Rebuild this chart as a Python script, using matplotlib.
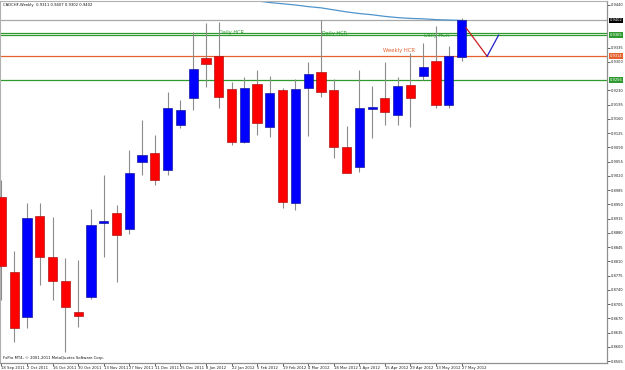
import matplotlib
matplotlib.use("Agg")
import matplotlib.pyplot as plt
from matplotlib.patches import Rectangle
from matplotlib.transforms import blended_transform_factory

# ---------------- data ----------------
week_labels = ["18 Sep 2011", "2 Oct 2011", "16 Oct 2011", "30 Oct 2011", "13 Nov 2011",
               "27 Nov 2011", "11 Dec 2011", "25 Dec 2011", "8 Jan 2012", "22 Jan 2012",
               "5 Feb 2012", "19 Feb 2012", "4 Mar 2012", "18 Mar 2012", "1 Apr 2012",
               "15 Apr 2012", "29 Apr 2012", "13 May 2012", "27 May 2012"]

opens = [0.8968, 0.8784, 0.8673, 0.8921, 0.8821, 0.8762, 0.8686, 0.8722, 0.8904, 0.8929,
         0.8890, 0.9054, 0.9076, 0.9035, 0.9145, 0.9211, 0.9310, 0.9315, 0.9234, 0.9103,
         0.9246, 0.9140, 0.9231, 0.8953, 0.9236, 0.9275, 0.9231, 0.9091, 0.9042, 0.9184,
         0.9211, 0.9170, 0.9243, 0.9266, 0.9302, 0.9194, 0.9311]
highs = [0.9010, 0.8835, 0.8953, 0.8953, 0.8919, 0.8818, 0.8813, 0.8939, 0.9022, 0.8949,
         0.9084, 0.9157, 0.9121, 0.9226, 0.9207, 0.9374, 0.9396, 0.9398, 0.9251, 0.9263,
         0.9280, 0.9266, 0.9236, 0.9258, 0.9300, 0.9403, 0.9258, 0.9143, 0.9280, 0.9241,
         0.9300, 0.9263, 0.9322, 0.9347, 0.9388, 0.9339, 0.9407]
lows = [0.8715, 0.8612, 0.8646, 0.8752, 0.8715, 0.8587, 0.8649, 0.8718, 0.8821, 0.8759,
        0.8877, 0.9022, 0.8998, 0.9022, 0.9138, 0.9182, 0.9239, 0.9187, 0.9096, 0.9101,
        0.9121, 0.9116, 0.8941, 0.8936, 0.9118, 0.9214, 0.9064, 0.9027, 0.9030, 0.9113,
        0.9145, 0.9145, 0.9140, 0.9256, 0.9187, 0.9187, 0.9302]
closes = [0.8799, 0.8646, 0.8917, 0.8821, 0.8762, 0.8698, 0.8676, 0.8899, 0.8909, 0.8875,
          0.9027, 0.9071, 0.9010, 0.9187, 0.9182, 0.9283, 0.9295, 0.9214, 0.9103, 0.9236,
          0.9150, 0.9224, 0.8956, 0.9234, 0.9270, 0.9226, 0.9091, 0.9027, 0.9187, 0.9189,
          0.9177, 0.9241, 0.9211, 0.9288, 0.9194, 0.9315, 0.9402]

ma_start = 18
ma_values = [0.9462, 0.9456, 0.9450, 0.9446, 0.9443, 0.9440, 0.9436, 0.9433, 0.9428,
             0.9423, 0.9419, 0.9416, 0.9412, 0.9409, 0.9407, 0.9406, 0.9404, 0.9403, 0.9402]

proj_x = [36.35, 38.0, 38.9]
proj_y = [0.9384, 0.9314, 0.9366]

last_price = 0.9402
daily_hcr = [0.9372, 0.9366]
weekly_hcr = 0.9314
support = 0.9256

ytick_values = [0.9440, 0.9335, 0.9300, 0.9230, 0.9195, 0.9160, 0.9125, 0.9090, 0.9055,
                0.9020, 0.8985, 0.8950, 0.8915, 0.8880, 0.8845, 0.8810, 0.8775, 0.8740,
                0.8705, 0.8670, 0.8635, 0.8600, 0.8565]

title_text = "CADCHF,Weekly  0.9311 0.9407 0.9302 0.9402"
footer_text = "FxPro MT4, \u00a9 2001-2011 MetaQuotes Software Corp."

# ---------------- figure ----------------
W, H = 625, 370
fig = plt.figure(figsize=(W / 100, H / 100), dpi=100)
fig.patch.set_facecolor("white")
ax = fig.add_axes([0.0, 7.5 / H, 607 / W, 361.5 / H])
ax.set_facecolor("white")

n = len(opens)
ax.set_xlim(-0.117, 47.38)
ax.set_ylim(0.85614, 0.94498)

GREEN = "#2f9a2f"
ORANGE = "#e4602e"
RED = "#ff0000"
BLUE = "#0000ff"

# level lines
ax.axhline(last_price, color="#a8a8a8", lw=0.9, zorder=1)
for lv in daily_hcr:
    ax.axhline(lv, color=GREEN, lw=0.9, zorder=1)
ax.axhline(weekly_hcr, color=ORANGE, lw=0.9, zorder=1)
ax.axhline(support, color=GREEN, lw=0.9, zorder=1)

# moving average
ax.plot(range(ma_start, ma_start + len(ma_values)), ma_values, color="#4f94cd", lw=0.9, zorder=2)

# candles
bw = 0.72
for i in range(n):
    o, h, l, c = opens[i], highs[i], lows[i], closes[i]
    ax.plot([i, i], [l, h], color="#8c8c8c", lw=0.8, zorder=3, solid_capstyle="butt")
    up = c >= o
    fc = BLUE if up else RED
    ec = "#1a1a9c" if up else "#b01818"
    bot = min(o, c)
    hgt = max(abs(c - o), 0.00012)
    ax.add_patch(Rectangle((i - bw / 2, bot), bw, hgt, facecolor=fc, edgecolor=ec,
                           lw=0.5, zorder=4))

# projection zigzag
ax.plot(proj_x[:2], proj_y[:2], color="#c81e1e", lw=0.9, zorder=5)
ax.plot(proj_x[1:], proj_y[1:], color="#2020c8", lw=0.9, zorder=5)

# line descriptions
ax.text(17.0, 0.93725, "Daily HCR", color=GREEN, fontsize=3.6, va="center", ha="left", zorder=2)
ax.text(25.08, 0.93700, "Daily HCR", color=GREEN, fontsize=3.6, va="center", ha="left", zorder=2)
ax.text(33.06, 0.93650, "Daily HCR", color=GREEN, fontsize=3.6, va="center", ha="left", zorder=2)
ax.text(29.85, 0.93285, "Weekly HCR", color=ORANGE, fontsize=3.8, va="center", ha="left", zorder=2)

# axes styling
for s in ["left", "top"]:
    ax.spines[s].set_color("#b0b0b0")
    ax.spines[s].set_linewidth(0.8)
for s in ["right", "bottom"]:
    ax.spines[s].set_color("#909090")
    ax.spines[s].set_linewidth(0.9)

ax.yaxis.tick_right()
ax.set_yticks(ytick_values)
ax.set_yticklabels([f"{v:.4f}" for v in ytick_values])
ax.tick_params(axis="y", length=2, width=0.5, pad=1, labelsize=2.6, colors="#222222")

ax.set_xticks(list(range(0, n, 2)))
ax.set_xticklabels(week_labels, ha="left")
ax.tick_params(axis="x", length=2, width=0.5, pad=0.5, labelsize=2.7, colors="#222222")

# boxed price labels on the right scale
tr = blended_transform_factory(ax.transAxes, ax.transData)
def price_box(val, bg, txt=None):
    ax.text(1.004, val, txt if txt else f"{val:.4f}", transform=tr, fontsize=2.6,
            color="white", va="center", ha="left", clip_on=False, zorder=10,
            bbox=dict(boxstyle="square,pad=0.25", facecolor=bg, edgecolor=bg, lw=0))

price_box(last_price, "#000000")
price_box(daily_hcr[1], GREEN, "0.9365")
price_box(weekly_hcr, ORANGE)
price_box(support, GREEN)

# header / footer text
ax.text(0.005, 0.988, title_text, transform=ax.transAxes, fontsize=2.7, color="#111111",
        va="center", ha="left")
ax.text(0.005, 0.012, footer_text, transform=ax.transAxes, fontsize=2.7, color="#111111",
        va="center", ha="left")

fig.savefig("out.png", dpi=100, facecolor="white")
